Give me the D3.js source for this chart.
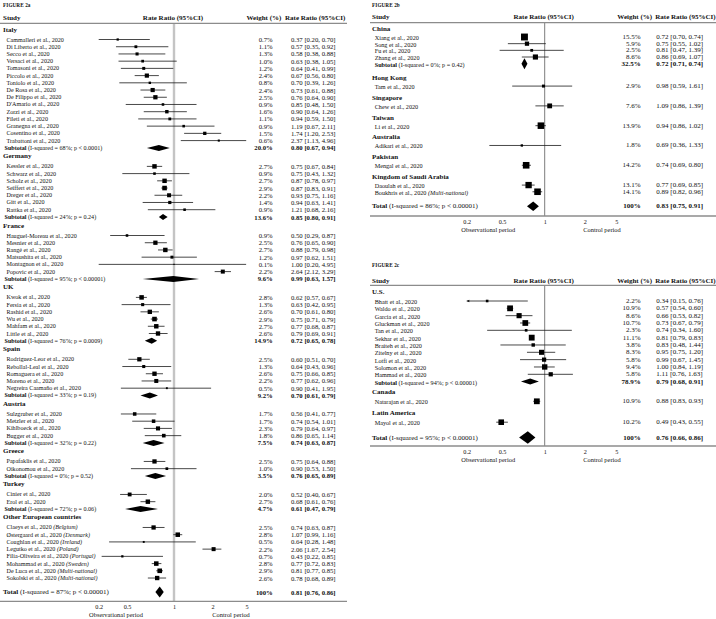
<!DOCTYPE html>
<html><head><meta charset="utf-8">
<script src="https://cdn.jsdelivr.net/npm/d3@7"></script>
<style>
body{margin:0;background:#fff}
svg{display:block}
text{font-family:"Liberation Serif","Times New Roman",serif;fill:#111}
</style>
</head><body>
<svg id="chart" width="716" height="619"></svg>
<script>
// ---------------- DATA ----------------
const tickValues = [0.2, 0.5, 1, 2, 5];
const tickLabels = ["0.2", "0.5", "1", "2", "5"];
const colHeaders = ["Study", "Rate Ratio (95%CI)", "Weight (%)", "Rate Ratio (95%CI)"];
const axisNotes = ["Observational period", "Control period"];

// FIGURE 2a  [study, weight %, RR, lower, upper, country]
const italy = [
  ["Cammalleri  et al., 2020", 0.7, 0.37, 0.20, 0.70],
  ["Di Liberto et al., 2020", 1.1, 0.57, 0.35, 0.92],
  ["Secco  et al., 2020", 1.3, 0.58, 0.38, 0.88],
  ["Versaci  et al., 2020", 1.0, 0.63, 0.38, 1.05],
  ["Tomasoni et al., 2020", 1.2, 0.64, 0.41, 0.99],
  ["Piccolo et al., 2020", 2.4, 0.67, 0.56, 0.80],
  ["Toniolo et al., 2020", 0.8, 0.70, 0.39, 1.26],
  ["De Rosa et al., 2020", 2.4, 0.73, 0.61, 0.88],
  ["De Filippo et al., 2020", 2.5, 0.76, 0.64, 0.90],
  ["D'Amario et al., 2020", 0.9, 0.85, 0.48, 1.50],
  ["Zorzi et al., 2020", 1.6, 0.90, 0.64, 1.26],
  ["Fileti et al., 2020", 1.1, 0.94, 0.59, 1.50],
  ["Granegna  et al., 2020", 0.9, 1.19, 0.67, 2.11],
  ["Cosentino et al., 2020", 1.5, 1.74, 1.20, 2.53],
  ["Trabattoni et al., 2020", 0.6, 2.37, 1.13, 4.96]
];
const italySub = ["(I-squared = 68%; p < 0.0001)", 20.0, 0.80, 0.67, 0.94];
const germany = [
  ["Kessler et al., 2020", 2.7, 0.75, 0.67, 0.84],
  ["Schwarz et al., 2020", 0.9, 0.75, 0.43, 1.32],
  ["Scholz et al., 2020", 2.7, 0.87, 0.78, 0.97],
  ["Seiffert et al., 2020", 2.9, 0.87, 0.83, 0.91],
  ["Dreger  et al., 2020", 2.2, 0.93, 0.75, 1.16],
  ["Gitt et al., 2020", 1.4, 0.94, 0.63, 1.41],
  ["Rattka et al., 2020", 0.9, 1.21, 0.68, 2.16]
];
const germanySub = ["(I-squared = 24%; p = 0.24)", 13.6, 0.85, 0.80, 0.91];
const france = [
  ["Hauguel-Moreau  et al., 2020", 0.9, 0.50, 0.29, 0.87],
  ["Mesnier et al., 2020", 2.5, 0.76, 0.65, 0.90],
  ["Rangé et al., 2020", 2.7, 0.88, 0.79, 0.98],
  ["Matsushita et al., 2020", 1.2, 0.97, 0.62, 1.51],
  ["Montagnon et al., 2020", 0.1, 1.00, 0.20, 4.95],
  ["Popovic et al., 2020", 2.2, 2.64, 2.12, 3.29]
];
const franceSub = ["(I-squared = 95%; p < 0.00001)", 9.6, 0.99, 0.63, 1.57];
const uk = [
  ["Kwok et al., 2020", 2.8, 0.62, 0.57, 0.67],
  ["Fersia et al., 2020", 1.3, 0.63, 0.42, 0.95],
  ["Rashid et al., 2020", 2.6, 0.70, 0.61, 0.80],
  ["Wu et al., 2020", 2.9, 0.75, 0.71, 0.79],
  ["Mahfam et al., 2020", 2.7, 0.77, 0.68, 0.87],
  ["Little et al., 2020", 2.6, 0.79, 0.69, 0.91]
];
const ukSub = ["(I-squared = 76%; p = 0.0009)", 14.9, 0.72, 0.65, 0.78];
const spain = [
  ["Rodriguez-Leor  et al., 2020", 2.5, 0.60, 0.51, 0.70],
  ["Rebollal-Leal  et al., 2020", 1.3, 0.64, 0.43, 0.96],
  ["Romaguera  et al., 2020", 2.6, 0.75, 0.66, 0.85],
  ["Moreno et al., 2020", 2.2, 0.77, 0.62, 0.96],
  ["Negreira  Caamaño et al., 2020", 0.5, 0.90, 0.41, 1.95]
];
const spainSub = ["(I-squared = 33%; p = 0.19)", 9.2, 0.70, 0.61, 0.79];
const austria = [
  ["Sulzgruber  et al., 2020", 1.7, 0.56, 0.41, 0.77],
  ["Metzler et al., 2020", 1.7, 0.74, 0.54, 1.01],
  ["Kihlboeck  et al., 2020", 2.3, 0.79, 0.64, 0.97],
  ["Bugger  et al., 2020", 1.8, 0.86, 0.65, 1.14]
];
const austriaSub = ["(I-squared = 32%; p = 0.22)", 7.5, 0.74, 0.63, 0.87];
const greece = [
  ["Papafaklis et al., 2020", 2.5, 0.75, 0.64, 0.88],
  ["Oikonomou et al., 2020", 1.0, 0.90, 0.53, 1.50]
];
const greeceSub = ["(I-squared = 0%; p = 0.52)", 3.5, 0.76, 0.65, 0.89];
const turkey = [
  ["Cinier et al., 2020", 2.0, 0.52, 0.40, 0.67],
  ["Erol et al., 2020", 2.7, 0.68, 0.61, 0.76]
];
const turkeySub = ["(I-squared = 72%; p = 0.06)", 4.7, 0.61, 0.47, 0.79];
const otherEurope = [
  ["Claeys et al., 2020", 2.5, 0.74, 0.63, 0.87, "(Belgium)"],
  ["Østergaard  et al., 2020", 2.8, 1.07, 0.99, 1.16, "(Denmark)"],
  ["Coughlan et al., 2020", 0.5, 0.64, 0.28, 1.48, "(Ireland)"],
  ["Legutko et al., 2020", 2.2, 2.06, 1.67, 2.54, "(Poland)"],
  ["Filia-Oliveira  et al., 2020", 0.7, 0.43, 0.22, 0.85, "(Portugal)"],
  ["Mohammad et al., 2020", 2.8, 0.77, 0.72, 0.83, "(Sweden)"],
  ["De Luca et al., 2020", 2.9, 0.81, 0.77, 0.85, "(Multi-national)"],
  ["Sokolski et al., 2020", 2.6, 0.78, 0.68, 0.89, "(Multi-national)"]
];
const total2a = ["(I-squared = 87%; p < 0.00001)", 100, 0.81, 0.76, 0.86];

// FIGURE 2b
const china = [
  ["Xiang et al., 2020", 15.5, 0.72, 0.70, 0.74],
  ["Song et al., 2020", 5.9, 0.75, 0.55, 1.02],
  ["Fu et al., 2020", 2.5, 0.81, 0.47, 1.39],
  ["Zhang et al., 2020", 8.6, 0.86, 0.69, 1.07]
];
const chinaSub = ["(I-squared = 0%; p = 0.42)", 32.5, 0.72, 0.71, 0.74];
const hongKong = [["Tam et al., 2020", 2.9, 0.98, 0.59, 1.61]];
const singapore = [["Chew et al., 2020", 7.6, 1.09, 0.86, 1.39]];
const taiwan = [["Li et al., 2020", 13.9, 0.94, 0.86, 1.02]];
const australia = [["Adikari et al., 2020", 1.8, 0.69, 0.36, 1.33]];
const pakistan = [["Mengal et al., 2020", 14.2, 0.74, 0.69, 0.80]];
const saudi = [
  ["Daoulah et al., 2020", 13.1, 0.77, 0.69, 0.85],
  ["Boukhris et al., 2020", 14.1, 0.89, 0.82, 0.96, "(Multi-national)"]
];
const total2b = ["(I-squared = 86%; p < 0.00001)", 100, 0.83, 0.75, 0.91];

// FIGURE 2c
const usa = [
  ["Bhatt et al., 2020", 2.2, 0.34, 0.15, 0.76],
  ["Waldo et al., 2020", 10.9, 0.57, 0.54, 0.60],
  ["Garcia et al., 2020", 8.6, 0.66, 0.53, 0.82],
  ["Gluckman  et al., 2020", 10.7, 0.73, 0.67, 0.79],
  ["Tan et al., 2020", 2.3, 0.74, 0.34, 1.60],
  ["Sekhar et al., 2020", 11.1, 0.81, 0.79, 0.83],
  ["Braiteh et al., 2020", 3.8, 0.83, 0.48, 1.44],
  ["Zitelny et al., 2020", 8.3, 0.95, 0.75, 1.20],
  ["Lotfi et al., 2020", 5.8, 0.99, 0.67, 1.45],
  ["Solomon  et al., 2020", 9.4, 1.00, 0.84, 1.19],
  ["Hammad  et al., 2020", 5.8, 1.11, 0.76, 1.63]
];
const usaSub = ["(I-squared = 94%; p < 0.00001)", 78.9, 0.79, 0.68, 0.91];
const canada = [["Natarajan et al., 2020", 10.9, 0.88, 0.83, 0.93]];
const latinAmerica = [["Mayol et al., 2020", 10.2, 0.49, 0.43, 0.55]];
const total2c = ["(I-squared = 95%; p < 0.00001)", 100, 0.76, 0.66, 0.86];

const groups2a = [
  {name: "Italy", studies: italy, sub: italySub},
  {name: "Germany", studies: germany, sub: germanySub},
  {name: "France", studies: france, sub: franceSub},
  {name: "UK", studies: uk, sub: ukSub},
  {name: "Spain", studies: spain, sub: spainSub},
  {name: "Austria", studies: austria, sub: austriaSub},
  {name: "Greece", studies: greece, sub: greeceSub},
  {name: "Turkey", studies: turkey, sub: turkeySub},
  {name: "Other European countries", studies: otherEurope, sub: null}
];
const groups2b = [
  {name: "China", studies: china, sub: chinaSub},
  {name: "Hong Kong", studies: hongKong, sub: null},
  {name: "Singapore", studies: singapore, sub: null},
  {name: "Taiwan", studies: taiwan, sub: null},
  {name: "Australia", studies: australia, sub: null},
  {name: "Pakistan", studies: pakistan, sub: null},
  {name: "Kingdom of Saudi Arabia", studies: saudi, sub: null}
];
const groups2c = [
  {name: "U.S.", studies: usa, sub: usaSub},
  {name: "Canada", studies: canada, sub: null},
  {name: "Latin America", studies: latinAmerica, sub: null}
];

// ---------------- DRAWING ----------------
const svg = d3.select("#chart");
const f2 = d3.format(".2f");
const fw = w => (w === 100 ? "100%" : d3.format(".1f")(w) + "%");
const rrText = (r, l, h) => `${f2(r)} [${f2(l)}, ${f2(h)}]`;

function drawPanel(cfg, groups, total) {
  const g = svg.append("g");
  const x = d3.scaleLog().domain(tickValues).range(cfg.range);
  const xMin = d3.min(tickValues), xMax = d3.max(tickValues);

  // layout of rows
  const rows = [];
  let y = cfg.y0;
  groups.forEach((grp, i) => {
    if (i > 0) y += groups[i - 1].sub ? cfg.c : cfg.d;
    rows.push({type: "group", y, label: grp.name});
    y += cfg.a;
    grp.studies.forEach((s, j) => {
      if (j > 0) y += cfg.s;
      rows.push({type: "study", y, name: s[0], w: s[1], rr: s[2], lo: s[3], hi: s[4], extra: s[5]});
    });
    if (grp.sub) {
      y += cfg.b;
      const s = grp.sub;
      rows.push({type: "sub", y, name: s[0], w: s[1], rr: s[2], lo: s[3], hi: s[4]});
    }
  });
  y += cfg.t;
  rows.push({type: "total", y, name: total[0], w: total[1], rr: total[2], lo: total[3], hi: total[4]});

  // figure title
  g.append("text").attr("x", cfg.titleX).attr("y", cfg.titleY)
    .attr("dominant-baseline", "central")
    .attr("font-size", 5.2).attr("font-weight", "bold").attr("letter-spacing", 0.1)
    .text(cfg.title);

  // column headers
  const hdr = g.append("g").attr("font-weight", "bold").attr("font-size", 7);
  hdr.append("text").attr("x", cfg.titleX).attr("y", cfg.headY).attr("dominant-baseline", "central").text(colHeaders[0]);
  hdr.append("text").attr("x", x(1) - 1).attr("y", cfg.headY).attr("dominant-baseline", "central").attr("text-anchor", "middle").text(colHeaders[1]);
  hdr.append("text").attr("x", cfg.wHeadX).attr("y", cfg.headY).attr("dominant-baseline", "central").text(colHeaders[2]);
  hdr.append("text").attr("x", cfg.rrHeadX).attr("y", cfg.headY).attr("dominant-baseline", "central").text(colHeaders[3]);

  // reference line at 1
  g.append("line").attr("x1", x(1)).attr("x2", x(1))
    .attr("y1", cfg.lineTop).attr("y2", cfg.lineBottom)
    .attr("stroke", cfg.refColor).attr("stroke-width", cfg.refWidth);

  // horizontal rules
  [cfg.lineTop, cfg.lineBottom].forEach(ly => {
    g.append("line").attr("x1", cfg.ruleX0).attr("x2", cfg.ruleX1).attr("y1", ly).attr("y2", ly)
      .attr("stroke", "#8c8c8c").attr("stroke-width", 1.3);
  });

  // rows
  rows.forEach(r => {
    if (r.type === "group") {
      g.append("text").attr("x", cfg.titleX).attr("y", r.y).attr("dominant-baseline", "central")
        .attr("font-size", 7).attr("font-weight", "bold").text(r.label);
      return;
    }
    // label
    const lt = g.append("text").attr("y", r.y).attr("dominant-baseline", "central");
    if (r.type === "study") {
      lt.attr("x", cfg.nameX).attr("font-size", cfg.nameSize);
      lt.append("tspan").text(r.name);
      if (r.extra) lt.append("tspan").attr("font-style", "italic").text(" " + r.extra);
    } else {
      const isTot = r.type === "total";
      lt.attr("x", isTot ? cfg.titleX : cfg.subX).attr("font-size", isTot ? 7 : cfg.nameSize);
      lt.append("tspan").attr("font-weight", "bold").text(isTot ? "Total" : "Subtotal");
      lt.append("tspan").text(" " + r.name);
    }
    const bold = r.type !== "study";
    g.append("text").attr("x", cfg.wRight).attr("y", r.y).attr("dominant-baseline", "central")
      .attr("text-anchor", "end").attr("font-size", cfg.numSize)
      .attr("font-weight", bold ? "bold" : "normal").text(fw(r.w));
    g.append("text").attr("x", cfg.rrLeft).attr("y", r.y).attr("dominant-baseline", "central")
      .attr("font-size", cfg.numSize).attr("font-weight", bold ? "bold" : "normal")
      .text(rrText(r.rr, r.lo, r.hi));

    if (r.type === "study") {
      const lo = Math.max(r.lo, xMin), hi = Math.min(r.hi, xMax);
      g.append("line").attr("x1", x(lo)).attr("x2", x(hi)).attr("y1", r.y).attr("y2", r.y)
        .attr("stroke", "#1a1a1a").attr("stroke-width", 0.8);
      if (r.lo < xMin) {
        const ax = x(xMin);
        g.append("path").attr("d", `M${ax},${r.y} l2.6,-1.3 l0,2.6 z`).attr("fill", "#111");
      }
      const side = Math.max(1.2, cfg.sqK * Math.sqrt(r.w));
      g.append("rect").attr("x", x(r.rr) - side / 2).attr("y", r.y - side / 2)
        .attr("width", side).attr("height", side).attr("fill", "#000");
    } else {
      const h = (r.type === "total" ? cfg.totH : cfg.subH) / 2;
      let xl = x(r.lo), xr = x(r.hi), xc = x(r.rr);
      if (xr - xl < 6) { xl = xc - 3; xr = xc + 3; }
      g.append("path").attr("d", `M${xl},${r.y} L${xc},${r.y - h} L${xr},${r.y} L${xc},${r.y + h} Z`)
        .attr("fill", "#000");
    }
  });

  // axis
  const axis = d3.axisBottom(x).tickValues(tickValues)
    .tickFormat((d, i) => tickLabels[i]).tickSize(0).tickPadding(cfg.tickPad);
  const ag = g.append("g").attr("transform", `translate(0,${cfg.lineBottom})`).call(axis);
  ag.select(".domain").remove();
  ag.selectAll("text").attr("font-size", 6.2)
    .attr("font-family", '"Liberation Serif","Times New Roman",serif').attr("fill", "#111");

  g.append("text").attr("x", x(0.35)).attr("y", cfg.noteY).attr("dominant-baseline", "central")
    .attr("text-anchor", "middle").attr("font-size", 6.4).text(axisNotes[0]);
  g.append("text").attr("x", x(3.3)).attr("y", cfg.noteY).attr("dominant-baseline", "central")
    .attr("text-anchor", "middle").attr("font-size", 6.4).text(axisNotes[1]);
}

const leftCols = {
  range: [98.7, 127, 174, 212.5, 246.5],
  titleX: 3, nameX: 6.5, subX: 4.5, wRight: 272.7, rrLeft: 291, wHeadX: 246.5, rrHeadX: 285,
  ruleX0: 0, ruleX1: 347, nameSize: 6.1, numSize: 6.7, sqK: 2.7,
  refColor: "#c4c4c4", refWidth: 2.4
};
const rightCols = {
  range: [466.7, 502, 544.7, 584.7, 616.3],
  titleX: 372, nameX: 374.7, subX: 374.7, wRight: 640.7, rrLeft: 656.3, wHeadX: 617.3, rrHeadX: 655.3,
  ruleX0: 370, ruleX1: 716, nameSize: 6.2, numSize: 7, sqK: 1.75,
  refColor: "#6e6e6e", refWidth: 0.9
};

drawPanel(Object.assign({}, leftCols, {
  title: "FIGURE 2a", titleY: 5, headY: 17.5, lineTop: 23.3, lineBottom: 601.3,
  y0: 29.5, a: 10, s: 7.22, b: 7.3, c: 8.5, d: 8.5, t: 14,
  subH: 6, totH: 11, tickPad: 3.4, noteY: 614.3
}), groups2a, total2a);

drawPanel(Object.assign({}, rightCols, {
  title: "FIGURE 2b", titleY: 5, headY: 17.3, lineTop: 22.7, lineBottom: 216,
  y0: 29, a: 8, s: 6.67, b: 6.67, c: 14.4, d: 11.8, t: 14.6,
  subH: 11, totH: 9.5, tickPad: 3.4, noteY: 229.3
}), groups2b, total2b);

drawPanel(Object.assign({}, rightCols, {
  title: "FIGURE 2c", titleY: 264.7, headY: 280.7, lineTop: 285.3, lineBottom: 446,
  y0: 291.7, a: 9.3, s: 7.33, b: 7.3, c: 10.4, d: 11.6, t: 15.4,
  subH: 6, totH: 12.5, tickPad: 3.4, noteY: 459.3
}), groups2c, total2c);
</script>
</body></html>
